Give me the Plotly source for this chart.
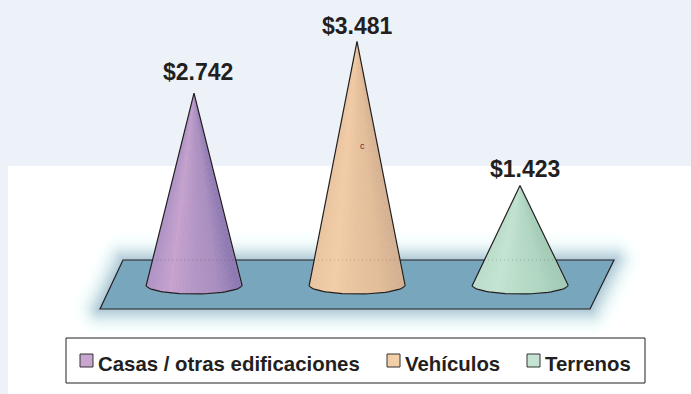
import numpy as np
import plotly.graph_objects as go

categories = ["Casas / otras edificaciones", "Vehículos", "Terrenos"]
values = [2742, 3481, 1423]
value_labels = ["$2.742", "$3.481", "$1.423"]
label_xshift = [4, 0, 5]
label_yshift = [6, 0, 1]
swatch_colors = ["#c8a6d0", "#f3cfa8", "#c4e3d2"]
stops = [
    ["#ad93c4", "#c9a5d0", "#b597c6", "#a98fc0", "#8574ad"],
    ["#e9c6a2", "#f3cea8", "#e9c4a0", "#e3bd9a", "#cfae90"],
    ["#bcddcb", "#c6e5d4", "#b8dcc8", "#b0d5c1", "#9fc8b3"],
]

W, H = 691, 394
BG = "#edf2f9"
INK = "#231f20"
PX_PER_UNIT = 0.07
BASE_PX = 285
CAT0_PX, CAT_STEP = 194, 163
HALF_W = 48 / CAT_STEP
ELL_H = 9 / PX_PER_UNIT
N = 40


def hex2rgb(c):
    return np.array([int(c[i:i + 2], 16) for i in (1, 3, 5)], float)


def shade(cols, s):
    pos = (s + 1) / 2 * (len(cols) - 1)
    i = min(int(pos), len(cols) - 2)
    rgb = hex2rgb(cols[i]) * (1 - (pos - i)) + hex2rgb(cols[i + 1]) * (pos - i)
    return "rgb(%d,%d,%d)" % tuple(rgb)


fig = go.Figure()
theta = np.linspace(np.pi, 0, N + 1)
for i, v in enumerate(values):
    ex = i + HALF_W * np.cos(theta)
    ey = -ELL_H * np.sin(theta)
    fig.add_trace(go.Scatter(
        x=[i, *ex, i], y=[v, *ey, v], mode="lines", fill="toself", line=dict(width=0),
        fillcolor=stops[i][2], hoverinfo="skip", showlegend=False))
    for k in range(N):
        fig.add_trace(go.Scatter(
            x=[i, ex[k], ex[k + 1], i], y=[v, ey[k], ey[k + 1], v],
            mode="lines", fill="toself", line=dict(width=0),
            fillcolor=shade(stops[i], np.cos((theta[k] + theta[k + 1]) / 2)),
            hoverinfo="skip", showlegend=False))
    floor_v = (BASE_PX - 260) / PX_PER_UNIT
    half = HALF_W * (1 - floor_v / v)
    fig.add_trace(go.Scatter(
        x=[i - half, i + half], y=[floor_v, floor_v], mode="lines",
        line=dict(color="rgba(60,50,60,0.3)", width=1, dash="1px,3px"),
        hoverinfo="skip", showlegend=False))
    fig.add_trace(go.Scatter(
        x=[i, *ex, i], y=[v, *ey, v], mode="lines",
        line=dict(color=INK, width=1.2), hoverinfo="skip", showlegend=False))


def poly(pts):
    return "M" + "L".join(f"{x / W:.5f},{1 - y / H:.5f}" for x, y in pts) + "Z"


FLOOR = [(123, 260), (614, 260), (590, 309), (100, 309)]


def grown(pts, r):
    """Round-cornered outward offset of a convex polygon (clockwise on screen)."""
    out = []
    n = len(pts)
    for j in range(n):
        p0, p1, p2 = np.array(pts[j - 1], float), np.array(pts[j], float), np.array(pts[(j + 1) % n], float)
        e1, e2 = p1 - p0, p2 - p1
        a1 = np.arctan2(-e1[0], e1[1])
        a2 = np.arctan2(-e2[0], e2[1])
        if a2 < a1:
            a2 += 2 * np.pi
        for a in np.linspace(a1, a2, 6):
            out.append((p1[0] + r * np.cos(a), p1[1] + r * np.sin(a)))
    return out


shapes = [dict(type="rect", xref="paper", yref="paper", x0=8 / W, x1=1, y0=0, y1=1 - 166 / H,
               fillcolor="white", line_width=0, layer="below")]
R = 28
for k in range(R, 0, -1):
    t = 1 - k / R
    shapes.append(dict(type="path", xref="paper", yref="paper", path=poly(grown(FLOOR, k)),
                       fillcolor="#5b8aa8", opacity=0.002 + 0.045 * t ** 1.5, line_width=0, layer="below"))
shapes.append(dict(type="path", xref="paper", yref="paper", path=poly(FLOOR),
                   fillcolor="#78a6bc", line=dict(color=INK, width=1.2), layer="below"))
shapes.append(dict(type="rect", xref="paper", yref="paper", x0=66 / W, x1=645 / W,
                   y0=1 - 383 / H, y1=1 - 338 / H, fillcolor="white",
                   line=dict(color=INK, width=1), layer="below"))

annotations = []
legend_x = [80, 387, 527]
for x, name, col in zip(legend_x, categories, swatch_colors):
    shapes.append(dict(type="rect", xref="paper", yref="paper", x0=x / W, x1=(x + 13) / W,
                       y0=1 - 367 / H, y1=1 - 354 / H, fillcolor=col,
                       line=dict(color="#333333", width=1), layer="below"))
    annotations.append(dict(xref="paper", yref="paper", x=(x + 16) / W, y=1 - 363.5 / H,
                            text=f"<b>{name}</b>", showarrow=False, xanchor="left", yanchor="middle",
                            font=dict(family="Liberation Sans", size=20.4, color=INK)))
for i, (v, lab, dx, dy) in enumerate(zip(values, value_labels, label_xshift, label_yshift)):
    annotations.append(dict(x=i, y=v, text=f"<b>{lab}</b>", showarrow=False, yanchor="bottom",
                            xshift=dx, yshift=dy,
                            font=dict(family="Liberation Sans", size=23, color=INK)))
annotations.append(dict(xref="paper", yref="paper", x=362.5 / W, y=1 - 146 / H, text="c",
                        showarrow=False, font=dict(family="Liberation Sans", size=9, color="#5a2a2a")))

fig.update_layout(
    width=W, height=H, autosize=False, margin=dict(l=0, r=0, t=0, b=0, pad=0),
    paper_bgcolor=BG, plot_bgcolor="rgba(0,0,0,0)", showlegend=False,
    shapes=shapes, annotations=annotations,
    xaxis=dict(range=[-CAT0_PX / CAT_STEP, (W - CAT0_PX) / CAT_STEP], visible=False, fixedrange=True),
    yaxis=dict(range=[(BASE_PX - H) / PX_PER_UNIT, BASE_PX / PX_PER_UNIT], visible=False, fixedrange=True),
)
fig.write_html("out.html", config={"displayModeBar": False},
               post_script="document.body.style.margin='0';document.body.style.background='%s';" % BG)
